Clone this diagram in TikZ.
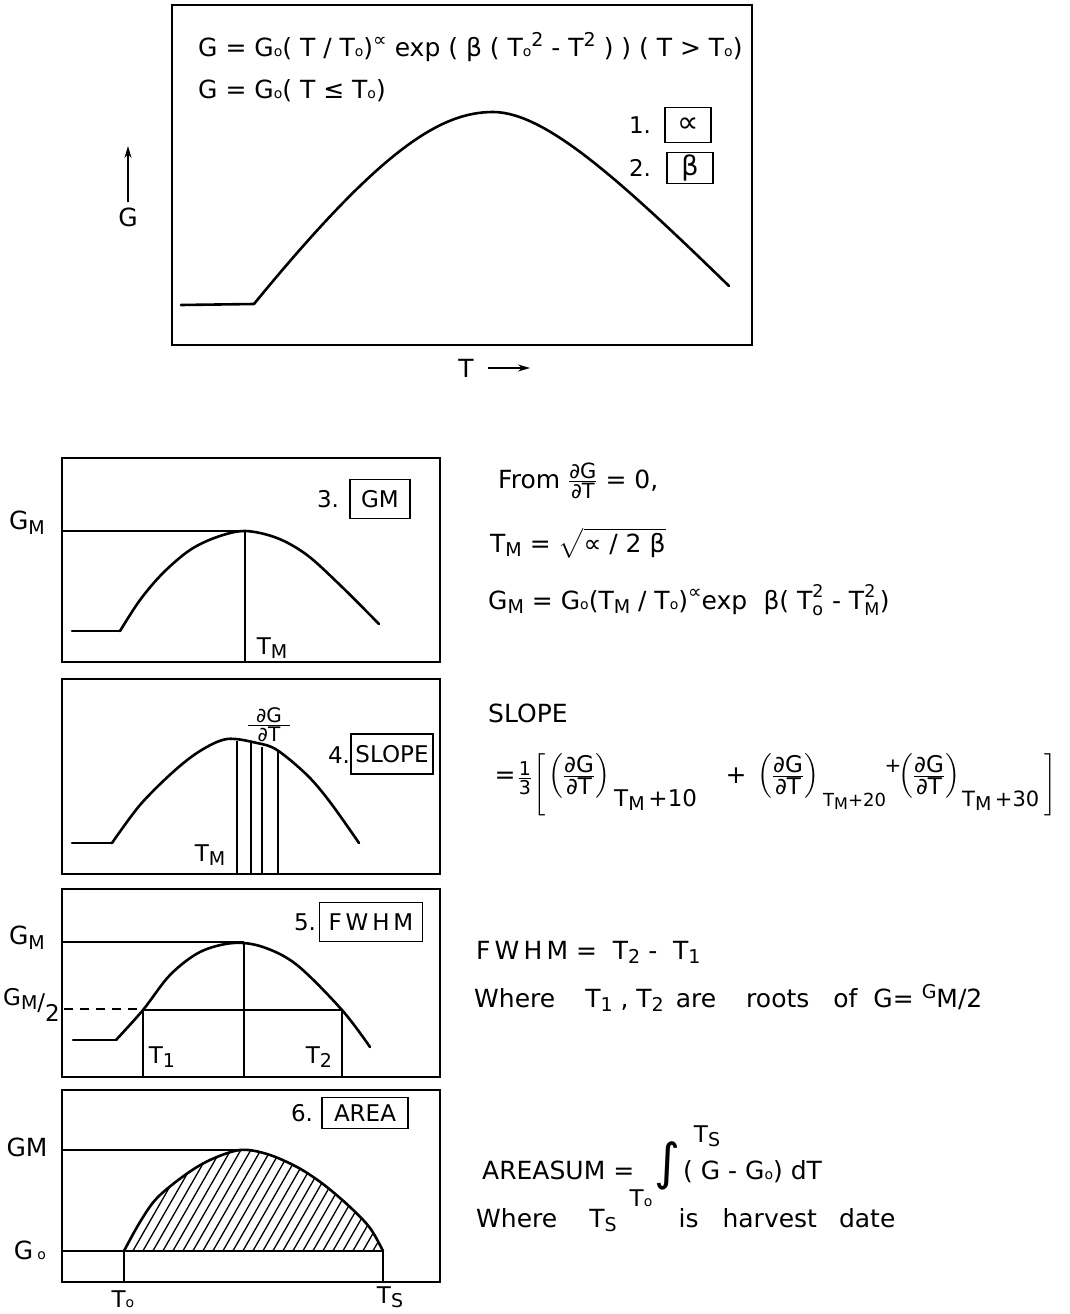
\documentclass[tikz,border=0pt]{standalone}
\usepackage{amsmath}
\usepackage{fontspec}
\setmainfont{DejaVu Sans}
\usetikzlibrary{arrows.meta}
\newcommand\fs[1]{\fontsize{#1}{#1}\selectfont}
\newcommand\zo{{\fs{14}o}}
\newcommand\lo[1]{\raisebox{-0.35ex}{\fs{19}#1}}
\newcommand\hi[1]{\raisebox{0.8ex}{\fs{19}#1}}
\newcommand\dgdt[1]{\frac{\mbox{\fs{#1}∂G}}{\mbox{\fs{#1}∂T}}}
\begin{document}
\begin{tikzpicture}[x=1pt,y=-1pt,
  txt/.style={font=\fs{25}, inner sep=0pt},
  sml/.style={font=\fs{23}, inner sep=0pt},
  mth/.style={font=\fs{25}, inner sep=0pt},
  frame/.style={draw, line width=2pt},
  crv/.style={line width=2.6pt, line join=round, line cap=round},
  thin/.style={line width=2pt},
  tag/.style={draw, line width=1.8pt, inner sep=0pt, font=\fs{23}},
  axarrow/.style={line width=1.8pt, -{Stealth[length=12pt,width=7pt]}}]
\useasboundingbox (0,0) rectangle (1069,1314);

% ---------- top plot ----------
\draw[frame] (172,5) rectangle (752,345);
\node[txt, anchor=base west] (eq1) at (198,57)
  {G = G\zo( T / T\zo)\hi{∝} exp (  β ( T\zo\hi{2} - T\hi{2} ) ) ( T > T\zo )};
\node[txt, anchor=base west] (eq2) at (198,99) {G = G\zo ( T ≤ T\zo )};
\node[sml] (n1) at (640,125) {1.};
\node[tag, minimum width=46pt, minimum height=35pt, font=\fs{30}] (ta) at (688,125) {∝};
\node[sml] (n2) at (640,168) {2.};
\node[tag, minimum width=46pt, minimum height=31pt, font=\fs{27}] (tb) at (690,168) {β};
\draw[crv] (181,305) -- (254,304);
\draw[crv] (254,304) .. controls (380,150) and (440,112) .. (493,112)
                      .. controls (545,112) and (620,180) .. (729,286);
\coordinate (ga0) at (128,202);
\coordinate (ga1) at (128,146);
\draw[axarrow] (ga0) -- (ga1);
\node[txt] (gl) at (128,217) {G};
\node[txt] (tl) at (466,368) {T};
\coordinate (ta0) at (488,368);
\coordinate (ta1) at (530,368);
\draw[axarrow] (ta0) -- (ta1);

% ---------- panel 3 ----------
\draw[frame] (62,458) rectangle (440,662);
\node[txt] (p3gm) at (27,523) {G\lo{M}};
\node[sml] (p3n) at (328,499) {3.};
\node[tag, minimum width=60pt, minimum height=39pt] (p3t) at (380,499) {GM};
\draw[thin] (62,531) -- (245,531);
\draw[thin] (245,531) -- (245,662);
\draw[crv] (72,631) -- (120,631);
\draw[crv] plot[smooth, tension=0.55] coordinates {(120,631) (140,600) (163,573) (190,550) (217,537) (245,531) (277,538) (307,555) (340,585) (379,624)};
\node[sml] (p3tm) at (272,648) {T\lo{M}};

% ---------- panel 4 ----------
\draw[frame] (62,679) rectangle (440,874);
\node[sml] (p4n) at (339,755) {4.};
\node[tag, minimum width=82pt, minimum height=40pt] (p4t) at (392,754) {SLOPE};
\draw[crv] (72,843) -- (112,843);
\draw[crv] plot[smooth, tension=0.55] coordinates {(112,843) (140,805) (173,772) (200,751) (227,739) (257,743) (277,750) (307,775) (330,802) (359,843)};
\draw[thin] (237,741) -- (237,874);
\draw[thin] (251,743) -- (251,874);
\draw[thin] (262,747) -- (262,874);
\draw[thin] (278,752) -- (278,874);
\node[inner sep=0pt, font=\fs{20}] (p4d) at (269,725) {$\frac{\mbox{\fs{20}\hspace{8pt}∂G\hspace{8pt}}}{\mbox{\fs{20}∂T}}$};
\node[sml] (p4tm) at (210,855) {T\lo{M}};

% ---------- panel 5 ----------
\draw[frame] (62,889) rectangle (440,1077);
\node[txt] (p5gm) at (27,938) {G\lo{M}};
\node[font=\fs{23}, inner sep=0pt, anchor=base west] (p5gm2) at (3,1005) {G\lo{M}\raisebox{-0.4ex}{/}\raisebox{-1.3ex}{2}};
\node[sml] (p5n) at (305,922) {5.};
\node[tag, minimum width=103pt, minimum height=39pt] (p5t) at (371,922) {F\,W\,H\,M};
\draw[thin] (62,942) -- (244,942);
\draw[thin] (244,942) -- (244,1077);
\draw[thin] (143,1010) -- (342,1010);
\draw[thin] (143,1010) -- (143,1077);
\draw[thin] (342,1010) -- (342,1077);
\draw[thin, dash pattern=on 9pt off 7pt] (64,1009) -- (143,1009);
\draw[crv] (73,1040) -- (116,1040);
\draw[crv] plot[smooth, tension=0.55] coordinates {(116,1040) (143,1010) (170,975) (200,952) (233,943) (263,947) (297,965) (342,1010) (370,1047)};
\node[sml] (p5t1) at (162,1057) {T\lo{1}};
\node[sml] (p5t2) at (319,1057) {T\lo{2}};

% ---------- panel 6 ----------
\draw[frame] (62,1090) rectangle (440,1282);
\node[txt] (p6gm) at (27,1147) {GM};
\node[txt] (p6go) at (30,1250) {G\,\zo};
\node[sml] (p6n) at (302,1113) {6.};
\node[tag, minimum width=86pt, minimum height=31pt] (p6t) at (365,1113) {AREA};
\draw[thin] (62,1150) -- (240,1150);
\draw[thin] (62,1251) -- (383,1251);
\draw[thin] (124,1251) -- (124,1282);
\draw[thin] (383,1251) -- (383,1282);
\begin{scope}
\clip plot[smooth, tension=0.55] coordinates {(124,1251) (140,1222) (157,1198) (185,1175) (210,1160) (240,1150) (267,1154) (297,1167) (323,1184) (350,1207) (370,1228) (383,1251)} -- cycle;
\foreach \k in {0,...,40} {\draw[line width=1.3pt] ({40+\k*10},1256) -- ++(70,-122);}
\end{scope}
\draw[crv] plot[smooth, tension=0.55] coordinates {(124,1251) (140,1222) (157,1198) (185,1175) (210,1160) (240,1150) (267,1154) (297,1167) (323,1184) (350,1207) (370,1228) (383,1251)};
\node[sml] (p6to) at (123,1299) {T\zo};
\node[sml] (p6ts) at (390,1297) {T\lo{S}};

% ---------- right column ----------
\node[txt, anchor=base west] (r1) at (498,488) {From $\dgdt{21}$ = 0,};
\node[txt, anchor=base west] (r2) at (490,552) {T\lo{M} = $\sqrt{\mbox{\fs{25}∝ / 2 β}}$};
\node[txt, anchor=base west] (r3) at (488,609) {G\lo{M} = G\zo(T\lo{M} / T\zo)\hi{∝}exp\,\, β( $\text{T}^{\text{2}}_{\text{o}}$ - $\text{T}^{\text{2}}_{\text{M}}$)};
\node[txt, anchor=base west] (r4) at (488,722) {SLOPE};
% slope formula
\node[txt] (s0) at (505,778) {=};
\node[mth] (s1) at (525,778) {$\frac{\mbox{\fs{19}1}}{\mbox{\fs{19}3}}$};
\node[font=\fs{22}, inner sep=0pt] (s2) at (540,785) {$\Bigg[$};
\node[mth] (g1) at (579,776) {$\left(\dgdt{23}\right)$};
\node[sml, anchor=base west] (b1) at (614,806) {T\lo{M}\,+10};
\node[txt] (pl1) at (736,776) {+};
\node[mth] (g2) at (788,776) {$\left(\dgdt{23}\right)$};
\node[font=\fs{18}, inner sep=0pt, anchor=base west] (b2) at (823,806) {T\raisebox{-0.35ex}{\fs{16}M}+20};
\node[font=\fs{20}, inner sep=0pt] (pl2) at (893,766) {+};
\node[mth] (g3) at (929,776) {$\left(\dgdt{23}\right)$};
\node[font=\fs{21}, inner sep=0pt, anchor=base west] (b3) at (962,806) {T\lo{M}\,+30};
\node[font=\fs{22}, inner sep=0pt] (s3) at (1051,785) {$\Bigg]$};
% FWHM and area
\node[txt, anchor=base west] (r6) at (476,959) {F\,W\,H\,M = \ T\lo{2} - \ T\lo{1}};
\node[txt, anchor=base west] (r7) at (474,1007) {Where\hspace{30pt}T\lo{1} , T\lo{2}\hspace{12pt}are\hspace{30pt}roots\hspace{24pt}of\hspace{16pt}G= \raisebox{0.6ex}{\fs{19}G}M/2};
\node[txt, anchor=base west] (r8) at (482,1179) {AREASUM =};
\node[sml] (r8lo) at (641,1198) {T\zo};
\node[font=\fs{50}, inner sep=0pt] (r8int) at (668,1166) {∫};
\node[sml] (r8hi) at (707,1136) {T\lo{S}};
\node[txt, anchor=base west] (r8b) at (683,1179) {( G - G\zo) dT};
\node[txt, anchor=base west] (r9) at (476,1227) {Where\hspace{32pt}T\lo{S}\hspace{62pt}is\hspace{24pt}harvest\hspace{22pt}date};
\end{tikzpicture}
\end{document}
